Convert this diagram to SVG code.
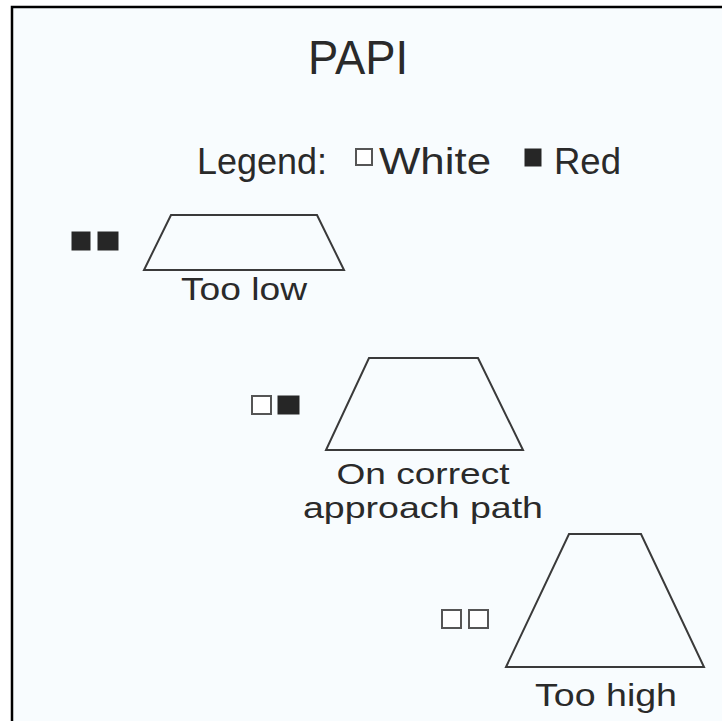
<svg xmlns="http://www.w3.org/2000/svg" width="722" height="721" viewBox="0 0 722 721">
<style>
text{font-family:"Liberation Sans","DejaVu Sans",sans-serif;fill:#2a2a2a}
.trap{fill:none;stroke:#3a3a3a;stroke-width:2}
.w{fill:#ffffff;stroke:#555;stroke-width:2}
.r{fill:#262626;stroke:#262626;stroke-width:1}
.lbl{font-size:32px;text-anchor:middle}
.lbl2{font-size:30px;text-anchor:middle}
.leg{font-size:37px}
</style>
<rect x="0" y="0" width="722" height="721" fill="#ffffff"/>
<rect x="13" y="8" width="709" height="713" fill="#f8fcfe"/>
<path d="M12 721 V7 H722" fill="none" stroke="#000" stroke-width="2.5"/>
<g id="title"><text x="358" y="74" font-size="48" text-anchor="middle" textLength="100" lengthAdjust="spacingAndGlyphs">PAPI</text></g>
<g id="legend">
<text class="leg" x="197" y="174" textLength="130" lengthAdjust="spacingAndGlyphs">Legend:</text>
<rect class="w" x="356" y="149" width="16" height="16"/>
<text class="leg" x="379" y="174" textLength="112" lengthAdjust="spacingAndGlyphs">White</text>
<rect class="r" x="525" y="149" width="16" height="17"/>
<text class="leg" x="554" y="174" textLength="67" lengthAdjust="spacingAndGlyphs">Red</text>
</g>
<g id="too-low">
<rect class="r" x="72" y="232" width="18" height="18"/>
<rect class="r" x="98" y="232" width="20" height="18"/>
<polygon class="trap" points="171,215 317,215 344,270 144,270"/>
<text class="lbl" x="244" y="300" textLength="126" lengthAdjust="spacingAndGlyphs">Too low</text>
</g>
<g id="on-path">
<rect class="w" x="252" y="396" width="19" height="18"/>
<rect class="r" x="278" y="396" width="21" height="18"/>
<polygon class="trap" points="369,358 478,358 523,450 326,450"/>
<text class="lbl2" x="423" y="484" textLength="173" lengthAdjust="spacingAndGlyphs">On correct</text>
<text class="lbl2" x="423" y="518" textLength="240" lengthAdjust="spacingAndGlyphs">approach path</text>
</g>
<g id="too-high">
<rect class="w" x="442" y="610" width="19" height="18"/>
<rect class="w" x="469" y="610" width="19" height="18"/>
<polygon class="trap" points="569,534 641,534 704,667 506,667"/>
<text class="lbl" x="606" y="706" textLength="142" lengthAdjust="spacingAndGlyphs">Too high</text>
</g>
</svg>
